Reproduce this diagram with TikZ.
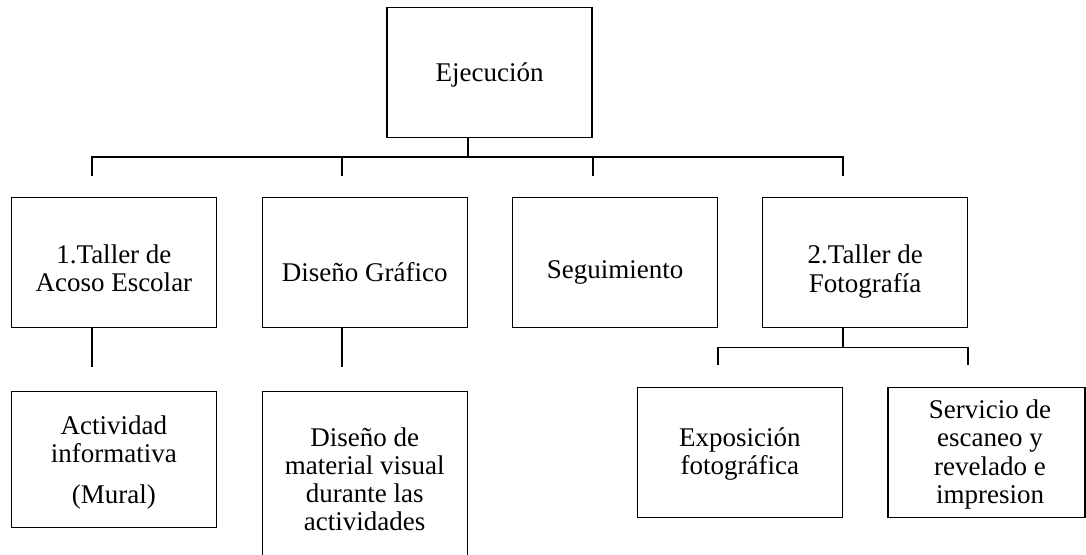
\documentclass[tikz,border=0pt]{standalone}
\usepackage{fontspec}
\setmainfont{Liberation Serif}
\begin{document}
\begin{tikzpicture}[x=1pt,y=-1pt,
  box/.style={draw, line width=1.1pt, inner sep=0pt, minimum width=205pt, minimum height=130pt},
  conn/.style={draw, line width=1.8pt, line join=miter},
  lbl/.style={font=\fontsize{27}{28.3}\selectfont, align=center, inner sep=0pt}]
\useasboundingbox (0,0) rectangle (1086,554);
% boxes
\node[box] (top) at (489.5,72.3) {};
\node[box] (r2a) at (113.9,262.7) {};
\node[box] (r2b) at (364.7,262.7) {};
\node[box] (r2c) at (615,262.7) {};
\node[box] (r2d) at (865.2,262.7) {};
\node[box, minimum height=136.5pt] (r3a) at (113.9,459.5) {};
\node[box, minimum height=168.8pt] (r3b) at (364.7,475.6) {};
\node[box] (r3c) at (739.8,452.7) {};
\node[box, minimum width=197pt] (r3d) at (986.5,452.7) {};
% labels
\node[lbl] (topt) at (489.5,75) {Ejecución};
\node[lbl] (r2at) at (113.9,268.5) {1.Taller de\\Acoso Escolar};
\node[lbl] (r2bt) at (364.7,272.3) {Diseño Gráfico};
\node[lbl] (r2ct) at (615,272.5) {Seguimiento};
\node[lbl] (r2dt) at (865.2,271.4) {2.Taller de\\Fotografía};
\node[lbl] (r3at) at (113.9,462.3) {Actividad\\informativa\\[12.7pt](Mural)};
\node[lbl] (r3bt) at (364.7,479.3) {Diseño de\\material visual\\durante las\\actividades};
\node[lbl] (r3ct) at (739.8,454.3) {Exposición\\fotográfica};
\node[lbl] (r3dt) at (990,454.4) {Servicio de\\escaneo y\\revelado e\\impresion};
% connector points
\coordinate (bus) at (467.7,157.3);
\coordinate (d1) at (91.7,175.7);
\coordinate (d2) at (342.3,175.7);
\coordinate (d3) at (592.7,175.7);
\coordinate (d4) at (843,175.7);
\coordinate (e1) at (91.7,367.4);
\coordinate (e2) at (342.3,367.4);
\coordinate (sb) at (842.7,347.5);
\coordinate (f1) at (717.7,365);
\coordinate (f2) at (968.3,365);
% connectors
\draw[conn] (top.south -| bus) -- (bus);
\draw[conn] (d1) |- (bus) -| (d4);
\draw[conn] (d2) -- (d2 |- bus);
\draw[conn] (d3) -- (d3 |- bus);
\draw[conn] (r2a.south -| e1) -- (e1);
\draw[conn] (r2b.south -| e2) -- (e2);
\draw[conn] (r2d.south -| sb) -- (sb);
\draw[conn] (f1) |- (sb) -| (f2);
\end{tikzpicture}
\end{document}
